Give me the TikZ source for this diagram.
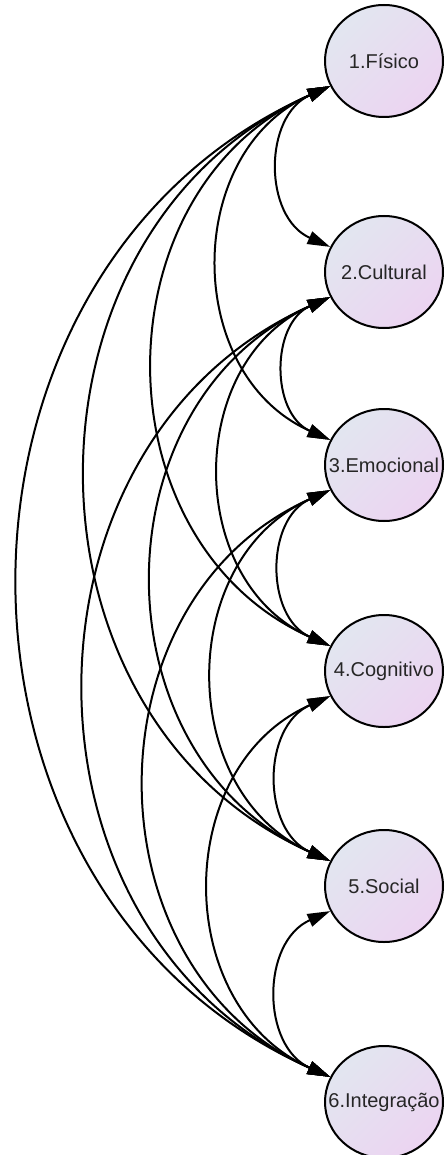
\documentclass[tikz,border=0pt]{standalone}
\usepackage{fontspec}
\setmainfont{Liberation Sans}
\usetikzlibrary{arrows.meta,shapes.geometric}
\definecolor{varTop}{RGB}{226,230,240}
\definecolor{varBot}{RGB}{236,212,241}
\tikzset{
  >={Triangle[length=17pt,width=10pt]},
  var/.style={ellipse, draw, line width=1.5pt, minimum width=88.5pt, minimum height=84pt, inner sep=0pt,
    top color=varTop, bottom color=varBot, shading angle=45, text=black!85, font=\fontsize{15}{18}\selectfont},
  cov/.style={<->, line width=1.5pt, bend right=66, looseness=1.17}
}
\begin{document}
\begin{tikzpicture}[x=0.75pt, y=-0.75pt]
    \useasboundingbox (0,0) rectangle (446,1155);

    % Variables
    \node[var] (fis)   at (384,61)   {\makebox[0pt]{1.Físico}};
    \node[var] (cult)  at (384,272)  {\makebox[0pt]{2.Cultural}};
    \node[var] (emo)   at (384,465)  {\makebox[0pt]{3.Emocional}};
    \node[var] (cog)   at (384,671)  {\makebox[0pt]{4.Cognitivo}};
    \node[var] (soc)   at (384,886)  {\makebox[0pt]{5.Social}};
    \node[var] (integ) at (384,1102) {\makebox[0pt]{6.Integração}};

    % Covariances from 1
    \draw[cov] (fis.205) to (cult.155);
    \draw[cov] (fis.205) to (emo.155);
    \draw[cov] (fis.205) to (cog.155);
    \draw[cov] (fis.205) to (soc.155);
    \draw[cov] (fis.205) to (integ.155);

    % Covariances from 2
    \draw[cov] (cult.205) to (emo.155);
    \draw[cov] (cult.205) to (cog.155);
    \draw[cov] (cult.205) to (soc.155);
    \draw[cov] (cult.205) to (integ.155);

    % Covariances from 3
    \draw[cov] (emo.205) to (cog.155);
    \draw[cov] (emo.205) to (soc.155);
    \draw[cov] (emo.205) to (integ.155);

    % Covariances from 4 and 5
    \draw[cov] (cog.205) to (soc.155);
    \draw[cov] (cog.205) to (integ.155);
    \draw[cov] (soc.205) to (integ.155);

\end{tikzpicture}
\end{document}
